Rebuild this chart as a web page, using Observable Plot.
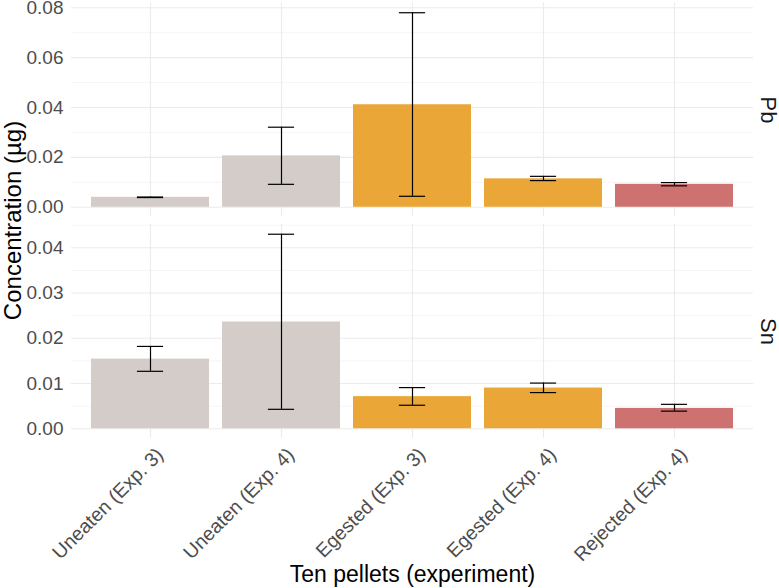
<!DOCTYPE html>
<html>
<head>
<meta charset="utf-8">
<script src="https://cdn.jsdelivr.net/npm/d3@7"></script>
<script src="https://cdn.jsdelivr.net/npm/@observablehq/plot@0.6"></script>
<style>
  html, body { margin: 0; padding: 0; background: white; }
  #wrap { position: relative; width: 779px; height: 588px; font-family: "Liberation Sans", Arial, sans-serif; }
  #wrap svg.plotsvg { position: absolute; left: 0; }
  #overlay { position: absolute; left: 0; top: 0; pointer-events: none; }
</style>
</head>
<body>
<div id="wrap"></div>
<script>
// ---- data ----
const categories = ["Uneaten (Exp. 3)", "Uneaten (Exp. 4)", "Egested (Exp. 3)", "Egested (Exp. 4)", "Rejected (Exp. 4)"];
const groups = ["Uneaten", "Uneaten", "Egested", "Egested", "Rejected"];

const pbMean = [0.0040, 0.0206, 0.0411, 0.0114, 0.0092];
const pbLow  = [0.0039, 0.0092, 0.0044, 0.0107, 0.0086];
const pbHigh = [0.0041, 0.0321, 0.0780, 0.0124, 0.0099];

const snMean = [0.0154, 0.0236, 0.0071, 0.0090, 0.0045];
const snLow  = [0.0127, 0.0043, 0.0052, 0.0080, 0.0039];
const snHigh = [0.0182, 0.0430, 0.0091, 0.0101, 0.0054];

const pbTicks = [0, 0.02, 0.04, 0.06, 0.08];
const pbMinor = [0.01, 0.03, 0.05, 0.07];
const snTicks = [0, 0.01, 0.02, 0.03, 0.04];
const snMinor = [0.005, 0.015, 0.025, 0.035, 0.045];

const groupDomain = ["Uneaten", "Egested", "Rejected"];
const groupColors = ["#D3CCC8", "#EAA636", "#CD7171"];

const FONT = "Liberation Sans, Arial, sans-serif";

function rows(mean, lo, hi) {
  return categories.map((c, i) => ({cat: c, group: groups[i], mean: mean[i], lo: lo[i], hi: hi[i]}));
}

function panel({data, ticks, minor, strip, height, marginTop, marginBottom, bottomAxis}) {
  const ymax = d3.max(data, d => d.hi);
  const marks = [
    Plot.ruleY(minor, {stroke: "#f1f1f1", strokeWidth: 0.7}),
    Plot.ruleY(ticks, {stroke: "#ebebeb", strokeWidth: 1.1}),
    Plot.gridX({stroke: "#ebebeb", strokeOpacity: 1, strokeWidth: 1.1}),
    Plot.barY(data, {x: "cat", y: "mean", fill: "group"}),
    Plot.ruleX(data, {x: "cat", y1: "lo", y2: "hi", stroke: "black", strokeWidth: 1.2}),
    Plot.tickY(data, {x: "cat", y: "hi", stroke: "black", strokeWidth: 1.2, insetLeft: 45.9, insetRight: 45.9}),
    Plot.tickY(data, {x: "cat", y: "lo", stroke: "black", strokeWidth: 1.2, insetLeft: 45.9, insetRight: 45.9}),
    Plot.axisY({ticks, tickSize: 0, tickPadding: 8, tickFormat: d3.format(".2f"), fontSize: 19, fill: "#4d4d4d", label: null}),
    Plot.text([strip], {text: d => d, frameAnchor: "right", dx: 15, rotate: 90, textAnchor: "middle", lineAnchor: "middle", fontSize: 22, fill: "#1a1a1a"})
  ];
  if (bottomAxis) {
    marks.push(
      Plot.text(categories, {x: d => d, text: d => d, frameAnchor: "bottom", rotate: -45, textAnchor: "end", lineAnchor: "middle", dx: 9.5, dy: 13, fontSize: 19.5, fill: "#4d4d4d"}),
      Plot.text(["Ten pellets (experiment)"], {text: d => d, frameAnchor: "bottom", dy: 136, lineAnchor: "middle", textAnchor: "middle", fontSize: 23, fill: "black"})
    );
  }
  return Plot.plot({
    width: 779,
    height,
    marginLeft: 71,
    marginRight: 26,
    marginTop,
    marginBottom,
    style: {fontFamily: FONT, background: "white", overflow: "visible"},
    x: {domain: categories, type: "band", paddingInner: 0.1, paddingOuter: 0.15, axis: null},
    y: {domain: [-0.05 * ymax, 1.05 * ymax], axis: null},
    color: {domain: groupDomain, range: groupColors},
    marks
  });
}

const wrap = document.getElementById("wrap");

const p1 = panel({data: rows(pbMean, pbLow, pbHigh), ticks: pbTicks, minor: pbMinor, strip: "Pb",
  height: 220, marginTop: 2.5, marginBottom: 3.5, bottomAxis: false});
p1.classList.add("plotsvg");
p1.style.top = "0px";
wrap.appendChild(p1);

const p2 = panel({data: rows(snMean, snLow, snHigh), ticks: snTicks, minor: snMinor, strip: "Sn",
  height: 368, marginTop: 4, marginBottom: 150, bottomAxis: true});
p2.classList.add("plotsvg");
p2.style.top = "220px";
wrap.appendChild(p2);

// shared y-axis title spanning both panels
const ov = d3.select(wrap).append("svg")
  .attr("id", "overlay")
  .attr("width", 779).attr("height", 588);
ov.append("text")
  .attr("transform", "translate(21,220.5) rotate(-90)")
  .attr("text-anchor", "middle")
  .attr("font-family", FONT)
  .attr("font-size", 24)
  .attr("fill", "black")
  .text("Concentration (µg)");
</script>
</body>
</html>
